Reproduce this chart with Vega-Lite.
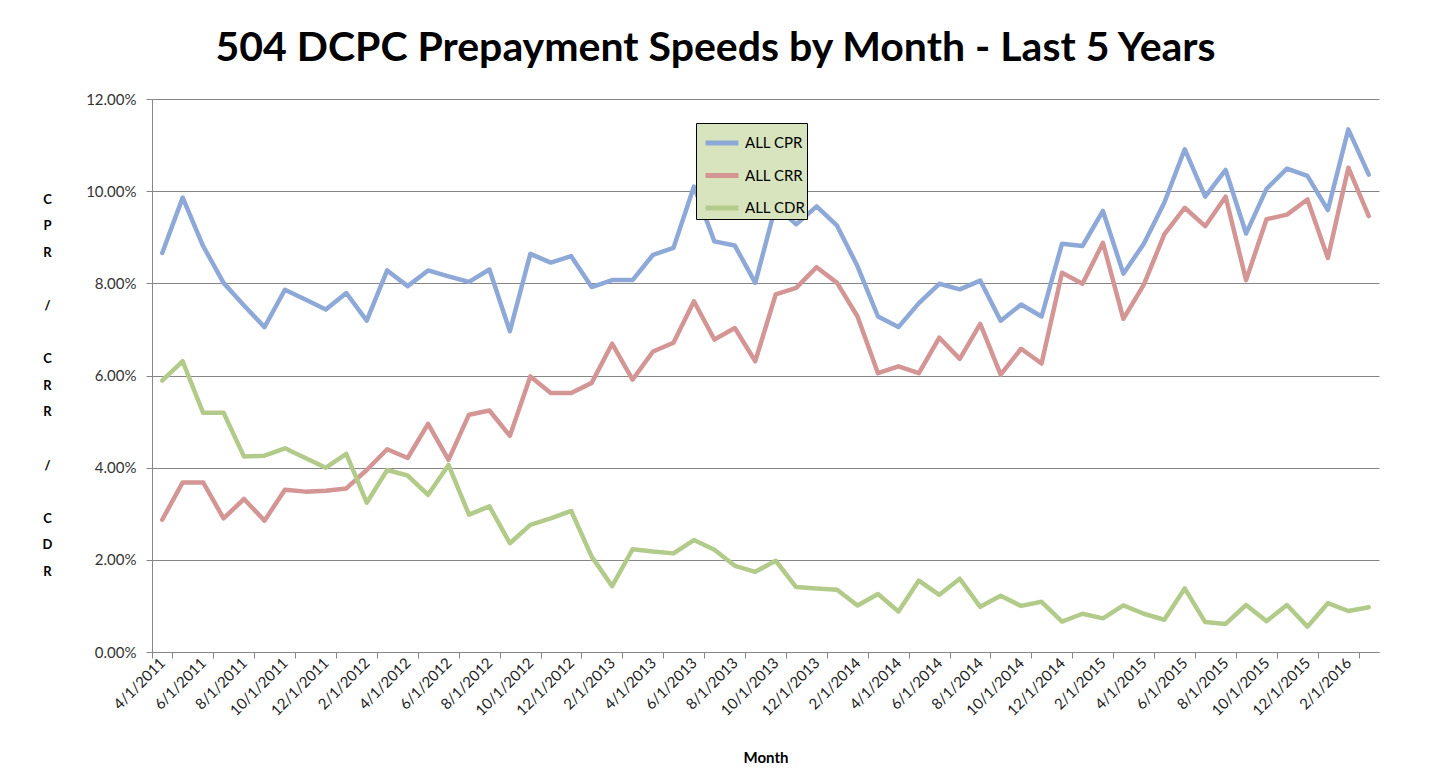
{
  "$schema": "https://vega.github.io/schema/vega-lite/v6.json",
  "autosize": {"type": "none"},
  "padding": {"left": 152, "top": 99, "right": 52, "bottom": 130},
  "width": 1227,
  "height": 553,
  "background": "white",
  "config": {
    "font": "Lato",
    "view": {"stroke": null}
  },
  "title": {
    "text": "504 DCPC Prepayment Speeds by Month - Last 5 Years",
    "fontSize": 41,
    "fontWeight": "bold",
    "font": "Lato",
    "color": "#000000",
    "anchor": "middle",
    "frame": "group",
    "dx": -50,
    "offset": 22
  },
  "data": {
    "values": [
      {"month": "4/1/2011", "ALL CPR": 0.0866, "ALL CRR": 0.0287, "ALL CDR": 0.0589},
      {"month": "5/1/2011", "ALL CPR": 0.0986, "ALL CRR": 0.0368, "ALL CDR": 0.0631},
      {"month": "6/1/2011", "ALL CPR": 0.0881, "ALL CRR": 0.0368, "ALL CDR": 0.0519},
      {"month": "7/1/2011", "ALL CPR": 0.0801, "ALL CRR": 0.0290, "ALL CDR": 0.0519},
      {"month": "8/1/2011", "ALL CPR": 0.0752, "ALL CRR": 0.0332, "ALL CDR": 0.0424},
      {"month": "9/1/2011", "ALL CPR": 0.0705, "ALL CRR": 0.0285, "ALL CDR": 0.0426},
      {"month": "10/1/2011", "ALL CPR": 0.0786, "ALL CRR": 0.0352, "ALL CDR": 0.0442},
      {"month": "11/1/2011", "ALL CPR": 0.0765, "ALL CRR": 0.0348, "ALL CDR": 0.0421},
      {"month": "12/1/2011", "ALL CPR": 0.0743, "ALL CRR": 0.0350, "ALL CDR": 0.0400},
      {"month": "1/1/2012", "ALL CPR": 0.0779, "ALL CRR": 0.0355, "ALL CDR": 0.0430},
      {"month": "2/1/2012", "ALL CPR": 0.0719, "ALL CRR": 0.0395, "ALL CDR": 0.0324},
      {"month": "3/1/2012", "ALL CPR": 0.0828, "ALL CRR": 0.0440, "ALL CDR": 0.0395},
      {"month": "4/1/2012", "ALL CPR": 0.0794, "ALL CRR": 0.0421, "ALL CDR": 0.0383},
      {"month": "5/1/2012", "ALL CPR": 0.0828, "ALL CRR": 0.0495, "ALL CDR": 0.0341},
      {"month": "6/1/2012", "ALL CPR": 0.0815, "ALL CRR": 0.0417, "ALL CDR": 0.0406},
      {"month": "7/1/2012", "ALL CPR": 0.0803, "ALL CRR": 0.0515, "ALL CDR": 0.0298},
      {"month": "8/1/2012", "ALL CPR": 0.0830, "ALL CRR": 0.0524, "ALL CDR": 0.0316},
      {"month": "9/1/2012", "ALL CPR": 0.0696, "ALL CRR": 0.0469, "ALL CDR": 0.0236},
      {"month": "10/1/2012", "ALL CPR": 0.0864, "ALL CRR": 0.0598, "ALL CDR": 0.0276},
      {"month": "11/1/2012", "ALL CPR": 0.0845, "ALL CRR": 0.0562, "ALL CDR": 0.0290},
      {"month": "12/1/2012", "ALL CPR": 0.0859, "ALL CRR": 0.0562, "ALL CDR": 0.0306},
      {"month": "1/1/2013", "ALL CPR": 0.0792, "ALL CRR": 0.0584, "ALL CDR": 0.0207},
      {"month": "2/1/2013", "ALL CPR": 0.0807, "ALL CRR": 0.0669, "ALL CDR": 0.0143},
      {"month": "3/1/2013", "ALL CPR": 0.0807, "ALL CRR": 0.0591, "ALL CDR": 0.0223},
      {"month": "4/1/2013", "ALL CPR": 0.0862, "ALL CRR": 0.0652, "ALL CDR": 0.0218},
      {"month": "5/1/2013", "ALL CPR": 0.0877, "ALL CRR": 0.0671, "ALL CDR": 0.0214},
      {"month": "6/1/2013", "ALL CPR": 0.1010, "ALL CRR": 0.0761, "ALL CDR": 0.0243},
      {"month": "7/1/2013", "ALL CPR": 0.0891, "ALL CRR": 0.0678, "ALL CDR": 0.0222},
      {"month": "8/1/2013", "ALL CPR": 0.0882, "ALL CRR": 0.0703, "ALL CDR": 0.0187},
      {"month": "9/1/2013", "ALL CPR": 0.0801, "ALL CRR": 0.0631, "ALL CDR": 0.0174},
      {"month": "10/1/2013", "ALL CPR": 0.0969, "ALL CRR": 0.0776, "ALL CDR": 0.0198},
      {"month": "11/1/2013", "ALL CPR": 0.0928, "ALL CRR": 0.0790, "ALL CDR": 0.0141},
      {"month": "12/1/2013", "ALL CPR": 0.0967, "ALL CRR": 0.0835, "ALL CDR": 0.0138},
      {"month": "1/1/2014", "ALL CPR": 0.0925, "ALL CRR": 0.0801, "ALL CDR": 0.0135},
      {"month": "2/1/2014", "ALL CPR": 0.0837, "ALL CRR": 0.0728, "ALL CDR": 0.0101},
      {"month": "3/1/2014", "ALL CPR": 0.0728, "ALL CRR": 0.0605, "ALL CDR": 0.0126},
      {"month": "4/1/2014", "ALL CPR": 0.0705, "ALL CRR": 0.0620, "ALL CDR": 0.0088},
      {"month": "5/1/2014", "ALL CPR": 0.0757, "ALL CRR": 0.0605, "ALL CDR": 0.0155},
      {"month": "6/1/2014", "ALL CPR": 0.0799, "ALL CRR": 0.0682, "ALL CDR": 0.0124},
      {"month": "7/1/2014", "ALL CPR": 0.0787, "ALL CRR": 0.0636, "ALL CDR": 0.0159},
      {"month": "8/1/2014", "ALL CPR": 0.0806, "ALL CRR": 0.0712, "ALL CDR": 0.0098},
      {"month": "9/1/2014", "ALL CPR": 0.0719, "ALL CRR": 0.0602, "ALL CDR": 0.0122},
      {"month": "10/1/2014", "ALL CPR": 0.0754, "ALL CRR": 0.0658, "ALL CDR": 0.0100},
      {"month": "11/1/2014", "ALL CPR": 0.0728, "ALL CRR": 0.0626, "ALL CDR": 0.0109},
      {"month": "12/1/2014", "ALL CPR": 0.0886, "ALL CRR": 0.0823, "ALL CDR": 0.0066},
      {"month": "1/1/2015", "ALL CPR": 0.0881, "ALL CRR": 0.0799, "ALL CDR": 0.0083},
      {"month": "2/1/2015", "ALL CPR": 0.0957, "ALL CRR": 0.0888, "ALL CDR": 0.0073},
      {"month": "3/1/2015", "ALL CPR": 0.0821, "ALL CRR": 0.0723, "ALL CDR": 0.0101},
      {"month": "4/1/2015", "ALL CPR": 0.0886, "ALL CRR": 0.0797, "ALL CDR": 0.0083},
      {"month": "5/1/2015", "ALL CPR": 0.0975, "ALL CRR": 0.0906, "ALL CDR": 0.0070},
      {"month": "6/1/2015", "ALL CPR": 0.1091, "ALL CRR": 0.0964, "ALL CDR": 0.0138},
      {"month": "7/1/2015", "ALL CPR": 0.0988, "ALL CRR": 0.0924, "ALL CDR": 0.0065},
      {"month": "8/1/2015", "ALL CPR": 0.1046, "ALL CRR": 0.0988, "ALL CDR": 0.0061},
      {"month": "9/1/2015", "ALL CPR": 0.0908, "ALL CRR": 0.0807, "ALL CDR": 0.0102},
      {"month": "10/1/2015", "ALL CPR": 0.1005, "ALL CRR": 0.0939, "ALL CDR": 0.0067},
      {"month": "11/1/2015", "ALL CPR": 0.1049, "ALL CRR": 0.0949, "ALL CDR": 0.0102},
      {"month": "12/1/2015", "ALL CPR": 0.1033, "ALL CRR": 0.0982, "ALL CDR": 0.0055},
      {"month": "1/1/2016", "ALL CPR": 0.0959, "ALL CRR": 0.0855, "ALL CDR": 0.0106},
      {"month": "2/1/2016", "ALL CPR": 0.1134, "ALL CRR": 0.1051, "ALL CDR": 0.0089},
      {"month": "3/1/2016", "ALL CPR": 0.1036, "ALL CRR": 0.0946, "ALL CDR": 0.0097}
    ]
  },
  "transform": [
    {"fold": ["ALL CPR", "ALL CRR", "ALL CDR"], "as": ["series", "value"]}
  ],
  "mark": {"type": "line", "strokeWidth": 4.5, "strokeJoin": "round", "strokeCap": "round"},
  "encoding": {
    "x": {
      "field": "month",
      "type": "ordinal",
      "sort": null,
      "scale": {"type": "band", "paddingInner": 0, "paddingOuter": 0},
      "axis": {
        "title": "Month",
        "titleFont": "Lato",
        "titleFontSize": 15,
        "titleFontWeight": "bold",
        "titleColor": "#000000",
        "titleY": 105,
        "titleBaseline": "middle",
        "values": ["4/1/2011","6/1/2011","8/1/2011","10/1/2011","12/1/2011","2/1/2012","4/1/2012","6/1/2012","8/1/2012","10/1/2012","12/1/2012","2/1/2013","4/1/2013","6/1/2013","8/1/2013","10/1/2013","12/1/2013","2/1/2014","4/1/2014","6/1/2014","8/1/2014","10/1/2014","12/1/2014","2/1/2015","4/1/2015","6/1/2015","8/1/2015","10/1/2015","12/1/2015","2/1/2016"],
        "labelAngle": -45,
        "labelAlign": "right",
        "labelBaseline": "middle",
        "labelFontSize": 15,
        "labelColor": "#222222",
        "labelPadding": 2,
        "labelOverlap": false,
        "tickBand": "extent",
        "tickSize": 6,
        "tickColor": "#868686",
        "domainColor": "#868686",
        "grid": false
      }
    },
    "y": {
      "field": "value",
      "type": "quantitative",
      "scale": {"domain": [0, 0.12], "nice": false, "zero": true},
      "axis": {
        "values": [0, 0.02, 0.04, 0.06, 0.08, 0.1, 0.12],
        "format": ".2%",
        "labelFontSize": 15,
        "labelColor": "#333333",
        "labelPadding": 10,
        "tickSize": 6,
        "tickColor": "#868686",
        "domainColor": "#868686",
        "gridColor": "#868686",
        "gridWidth": 1,
        "title": ["C","P","R","\u2800","/","\u2800","C","R","R","\u2800","/","\u2800","C","D","R"],
        "titleAngle": 0,
        "titleFontSize": 13,
        "titleFontWeight": "bold",
        "titleColor": "#000000",
        "titleLineHeight": 26.6,
        "titleAlign": "center",
        "titleBaseline": "middle",
        "titleX": -105,
        "titleY": 100
      }
    },
    "color": {
      "field": "series",
      "type": "nominal",
      "scale": {"domain": ["ALL CPR", "ALL CRR", "ALL CDR"], "range": ["#8EA9D8", "#D49595", "#B3CB8A"]},
      "legend": {
        "orient": "none",
        "legendX": 544,
        "legendY": 24,
        "direction": "vertical",
        "title": null,
        "fillColor": "#D7E4BD",
        "strokeColor": "#000000",
        "padding": 1,
        "symbolType": "stroke",
        "symbolSize": 1089,
        "symbolStrokeWidth": 5,
        "symbolOffset": 6,
        "labelOffset": 4,
        "labelFontSize": 15,
        "labelColor": "#000000",
        "rowPadding": 3.5,
        "labelExpr": "datum.label + ' '"
      }
    }
  }
}
